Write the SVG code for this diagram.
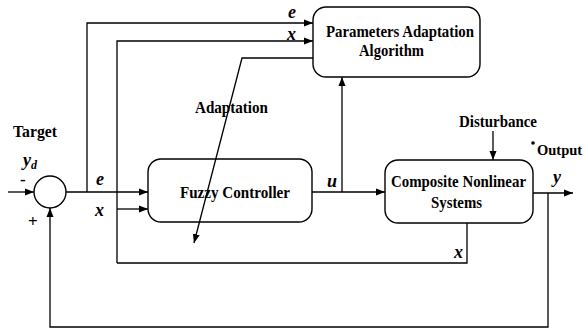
<svg xmlns="http://www.w3.org/2000/svg" width="585" height="333" viewBox="0 0 585 333">
<defs>
<marker id="ah" markerWidth="10" markerHeight="8" refX="9" refY="4" orient="auto" markerUnits="userSpaceOnUse">
<path d="M0,0.5 L9,4 L0,7.5 Z" fill="#000"/>
</marker>
<style>
.box{fill:none;stroke:#000;stroke-width:1.4}
.ln{fill:none;stroke:#000;stroke-width:1.3}
.t{font-family:"Liberation Serif","Times New Roman",serif;font-weight:bold;font-size:17px;fill:#000}
.v{font-family:"Liberation Serif","Times New Roman",serif;font-weight:bold;font-style:italic;font-size:18px;fill:#000}
.o{font-family:"Liberation Serif","Times New Roman",serif;font-weight:bold;font-size:14.5px;fill:#000}
</style>
</defs>
<rect width="585" height="333" fill="#fff"/>
<g id="connectors">
<path class="ln" d="M8,192 L34,192" marker-end="url(#ah)"/>
<path class="ln" d="M66,192 L148,192" marker-end="url(#ah)"/>
<path class="ln" d="M87,192 L87,23 L313,23" marker-end="url(#ah)"/>
<path class="ln" d="M117,263 L117,41 L313,41" marker-end="url(#ah)"/>
<path class="ln" d="M117,209 L148,209" marker-end="url(#ah)"/>
<path class="ln" d="M117,263 L467,263 L467,223"/>
<path class="ln" d="M312,192 L385,192" marker-end="url(#ah)"/>
<path class="ln" d="M342,192 L342,77" marker-end="url(#ah)"/>
<path class="ln" d="M313,58 L242,58 L194,243" marker-end="url(#ah)"/>
<path class="ln" d="M493,131 L493,160" marker-end="url(#ah)"/>
<path class="ln" d="M533,193 L573,193" marker-end="url(#ah)"/>
<path class="ln" d="M548,193 L548,327 L50,327 L50,208" marker-end="url(#ah)"/>
</g>
<g id="sum">
<circle class="box" cx="50" cy="192" r="16"/>
<text class="t" x="20" y="185">-</text>
<text class="t" x="28" y="227">+</text>
</g>
<g id="target">
<text class="t" x="13" y="137" textLength="44" lengthAdjust="spacingAndGlyphs">Target</text>
<text class="v" x="23" y="166">y<tspan font-size="12" dy="3">d</tspan></text>
</g>
<g id="paa">
<rect class="box" x="313" y="7" width="167" height="70" rx="13"/>
<text class="t" x="326" y="37" textLength="148" lengthAdjust="spacingAndGlyphs">Parameters Adaptation</text>
<text class="t" x="359" y="56" textLength="65" lengthAdjust="spacingAndGlyphs">Algorithm</text>
</g>
<g id="fc">
<rect class="box" x="148" y="159" width="164" height="63" rx="13"/>
<text class="t" x="180" y="198" textLength="110" lengthAdjust="spacingAndGlyphs">Fuzzy Controller</text>
</g>
<g id="cns">
<rect class="box" x="385" y="160" width="148" height="63" rx="13"/>
<text class="t" x="391" y="187" textLength="135" lengthAdjust="spacingAndGlyphs">Composite Nonlinear</text>
<text class="t" x="431" y="208" textLength="51" lengthAdjust="spacingAndGlyphs">Systems</text>
</g>
<g id="labels">
<text class="t" x="195" y="113" textLength="73" lengthAdjust="spacingAndGlyphs">Adaptation</text>
<text class="t" x="459" y="127" textLength="78" lengthAdjust="spacingAndGlyphs">Disturbance</text>
<circle cx="533" cy="143" r="1.8" fill="#000"/>
<text class="o" x="537" y="155">Output</text>
<text class="v" x="288" y="18">e</text>
<text class="v" x="287" y="40">x</text>
<text class="v" x="96" y="185">e</text>
<text class="v" x="95" y="216">x</text>
<text class="v" x="327" y="187">u</text>
<text class="v" x="553" y="183">y</text>
<text class="v" x="454" y="258">x</text>
</g>
</svg>
